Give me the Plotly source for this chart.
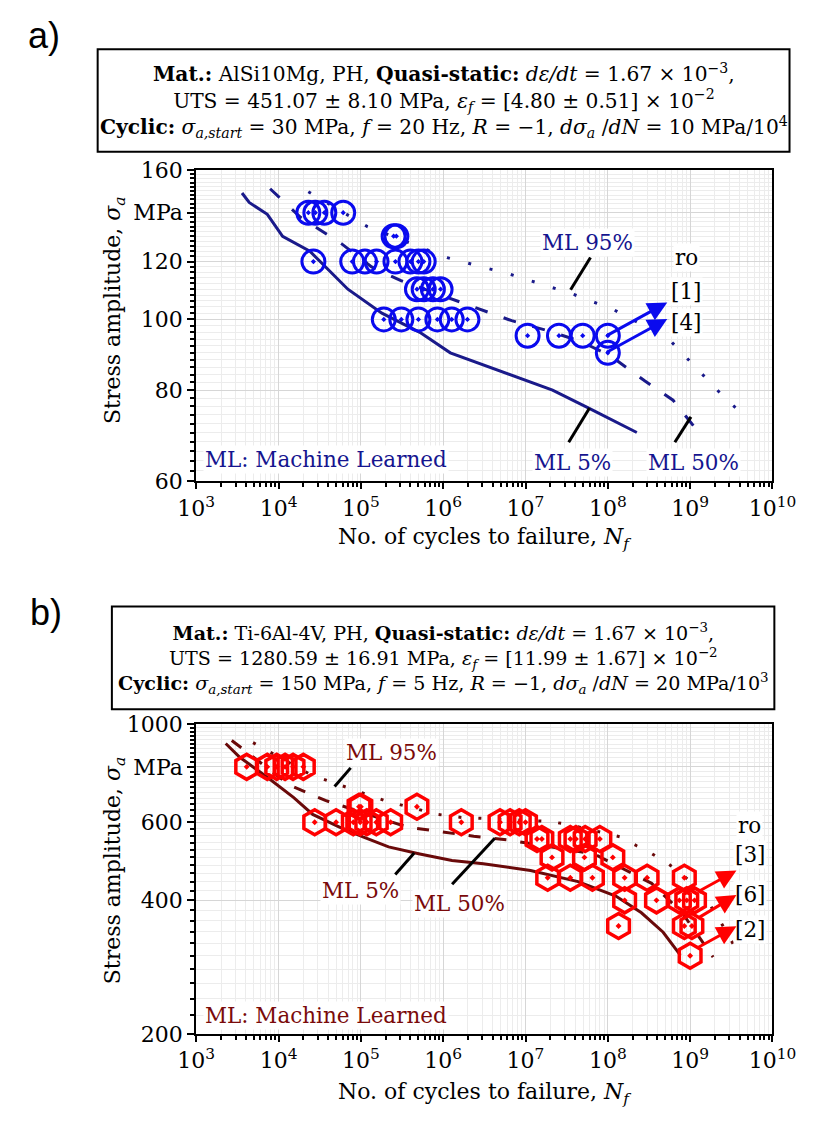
import plotly.graph_objects as go
import numpy as np

W, H = 823, 1129
FONT = "DejaVu Serif"

# ---------------- Panel a data (AlSi10Mg) ----------------
a_N = [2.3e4, 2.8e4, 3.6e4, 6.1e4,
       2.5e5, 2.7e5,
       2.65e4, 7.85e4, 1.12e5, 1.55e5, 2.63e5, 4.0e5, 5.0e5, 5.8e5,
       4.8e5, 5.8e5, 7.5e5, 9.3e5,
       1.9e5, 3.1e5, 5.0e5, 8.5e5, 1.27e6, 1.97e6,
       1.06e7, 2.55e7, 4.95e7, 1.0e8,
       1.0e8]
a_S = [140, 140, 140, 140,
       130, 130,
       120, 120, 120, 120, 120, 120, 120, 120,
       110, 110, 110, 110,
       100, 100, 100, 100, 100, 100,
       95, 95, 95, 95,
       90]

a_ml5_N = [3.6e3, 4.4e3, 7.3e3, 1.12e4, 2.4e4, 3.7e4, 6.95e4, 1.8e5, 5.2e5, 1.22e6, 2.13e7, 5.7e7, 2.25e8]
a_ml5_S = [149, 144.6, 139.3, 130, 124, 118, 110, 102, 96, 90, 80, 75.7, 70]

a_ml50_N = [7.9e3, 1.85e4, 5.8e4, 1.35e5, 3.07e5, 1.8e6, 6.8e6, 1.8e7, 4.6e7, 1.1e8, 2.8e8, 6.2e8, 1.2e9]
a_ml50_S = [151, 138, 127, 118, 113, 105, 99.6, 96.6, 93.4, 89, 82.4, 77.5, 70.6]

a_ml95_N = [2.3e4, 1.2e5, 1.15e6, 6.5e6, 3.6e7, 1.16e8, 5.4e8, 1.26e9, 2.8e9, 4.5e9]
a_ml95_S = [149.6, 134, 121.4, 115.3, 108.5, 103.2, 94.2, 85.2, 77.5, 74]

# ---------------- Panel b data (Ti-6Al-4V) ----------------
b_N = [4.1e3, 7.3e3, 9.5e3, 1.2e4, 1.5e4, 2.0e4,
       9.5e4, 1.0e5, 4.8e5,
       2.75e4, 5.0e4, 8.1e4, 9.8e4, 1.18e5, 1.54e5, 2.3e5, 1.66e6, 4.9e6, 6.5e6, 8.4e6, 1.0e7,
       1.38e7, 1.58e7, 3.5e7, 4.1e7, 5.3e7, 8.0e7,
       2.1e7, 5.2e7, 1.15e8,
       1.86e7, 3.5e7, 6.5e7, 1.6e8, 3.0e8, 8.5e8,
       1.6e8, 3.9e8, 7.4e8, 9.1e8, 1.13e9,
       1.35e8, 8.5e8, 1.05e9,
       1.0e9]
b_S = [800, 800, 800, 800, 800, 800,
       650, 650, 650,
       600, 600, 600, 600, 600, 600, 600, 600, 600, 600, 600, 600,
       550, 550, 550, 550, 550, 550,
       500, 500, 500,
       450, 450, 450, 450, 450, 450,
       400, 400, 400, 400, 400,
       350, 350, 350,
       300]

b_ml5_N = [2.28e3, 3.38e3, 7.5e3, 1.53e4, 2.6e4, 5.5e4, 1.06e5, 2.17e5, 5.2e5, 1.28e6, 3.07e6,
           1.15e7, 4.35e7, 1.25e8, 2.56e8, 4.7e8, 7.6e8]
b_ml5_S = [903, 841, 755, 682, 625, 585, 556, 528, 509, 492, 484, 467, 441, 409, 375, 339, 301]

b_ml50_N = [2.7e3, 3.9e3, 1.34e4, 3.7e4, 3.7e5, 1.06e6, 2.35e6, 6.3e6, 6.8e7, 3.4e8, 8.0e8, 1.9e9]
b_ml50_S = [917, 871, 729, 672, 585, 570, 558, 547, 509, 437, 375, 298]

b_ml95_N = [4.9e3, 2.5e4, 2.06e5, 8.6e5, 1.7e6, 1.86e7, 3.2e7, 1.43e8, 2.24e8, 3.4e8, 5.4e8, 1.19e9, 1.68e9, 2.3e9, 3.9e9]
b_ml95_S = [907, 767, 669, 625, 615, 603, 594, 556, 531, 510, 484, 431, 395, 360, 303]

x_tickvals = [1e3, 1e4, 1e5, 1e6, 1e7, 1e8, 1e9, 1e10]
x_ticktext = ["10<sup>3</sup>", "10<sup>4</sup>", "10<sup>5</sup>", "10<sup>6</sup>",
              "10<sup>7</sup>", "10<sup>8</sup>", "10<sup>9</sup>", "10<sup>10</sup>"]
a_y_tickvals = [60, 80, 100, 120, 140, 160]
a_y_ticktext = ["60", "80", "100", "120", "MPa", "160"]
b_y_tickvals = [200, 400, 600, 800, 1000]
b_y_ticktext = ["200", "400", "600", "MPa", "1000"]

# ---------------- styling ----------------
BLUE = "#0a0aee"
NAVY = "#1a1a8a"
NAVY_TXT = "#15158f"
RED = "#ff0000"
MAROON = "#6a0a0a"
MAROON_TXT = "#7a0a0a"
TICKSZ = 22


def px(x):
    return x / W


def py(y):
    return 1 - y / H


fig = go.Figure()

# panel a traces
fig.add_trace(go.Scatter(x=a_ml5_N, y=a_ml5_S, mode="lines", line=dict(color=NAVY, width=3),
                         xaxis="x", yaxis="y", showlegend=False))
fig.add_trace(go.Scatter(x=a_ml50_N, y=a_ml50_S, mode="lines", line=dict(color=NAVY, width=3, dash="13px,17px"),
                         xaxis="x", yaxis="y", showlegend=False))
fig.add_trace(go.Scatter(x=a_ml95_N, y=a_ml95_S, mode="lines", line=dict(color=NAVY, width=3, dash="3px,19px"),
                         xaxis="x", yaxis="y", showlegend=False))
fig.add_trace(go.Scatter(x=a_N, y=a_S, mode="markers",
                         marker=dict(symbol="circle-open-dot", size=23, color=BLUE, line=dict(width=3, color=BLUE)),
                         xaxis="x", yaxis="y", showlegend=False))

# panel b traces
fig.add_trace(go.Scatter(x=b_ml5_N, y=b_ml5_S, mode="lines", line=dict(color=MAROON, width=3),
                         xaxis="x2", yaxis="y2", showlegend=False))
fig.add_trace(go.Scatter(x=b_ml50_N, y=b_ml50_S, mode="lines", line=dict(color=MAROON, width=3, dash="12px,14px"),
                         xaxis="x2", yaxis="y2", showlegend=False))
fig.add_trace(go.Scatter(x=b_ml95_N, y=b_ml95_S, mode="lines", line=dict(color=MAROON, width=3, dash="3px,17px"),
                         xaxis="x2", yaxis="y2", showlegend=False))
fig.add_trace(go.Scatter(x=b_N, y=b_S, mode="markers",
                         marker=dict(symbol="hexagon-open-dot", size=25, color=RED, line=dict(width=3.5, color=RED)),
                         xaxis="x2", yaxis="y2", showlegend=False))

x_minor = [m * 10 ** e for e in range(3, 10) for m in range(2, 10)]

common_x = dict(type="log", range=[3, 10], tickmode="array", tickvals=x_tickvals, ticktext=x_ticktext,
                showline=True, linecolor="black", linewidth=2, mirror=True,
                ticks="outside", ticklen=6, tickwidth=2, tickcolor="black",
                showgrid=True, gridcolor="#d6d6d6", gridwidth=1,
                minor=dict(tickvals=x_minor, ticks="outside", ticklen=4, tickwidth=1.5, tickcolor="black",
                           showgrid=True, gridcolor="#ececec", gridwidth=1),
                tickfont=dict(family=FONT, size=TICKSZ, color="black"), zeroline=False)

a_y_minor = list(range(62, 160, 2))
b_y_minor = list(range(220, 1000, 20))

common_y = dict(type="log", tickmode="array",
                showline=True, linecolor="black", linewidth=2, mirror=True,
                ticks="outside", ticklen=7, tickwidth=2, tickcolor="black",
                showgrid=True, gridcolor="#d6d6d6", gridwidth=1,
                tickfont=dict(family=FONT, size=TICKSZ, color="black"), zeroline=False)

fig.update_layout(
    width=W, height=H, margin=dict(l=0, r=0, t=0, b=0),
    paper_bgcolor="white", plot_bgcolor="white",
    xaxis=dict(common_x, domain=[px(187), px(795)], anchor="y"),
    yaxis=dict(common_y, domain=[py(480), py(162)], anchor="x",
               range=[np.log10(60), np.log10(160)], tickvals=a_y_tickvals, ticktext=a_y_ticktext,
               minor=dict(tickvals=a_y_minor, ticks="outside", ticklen=4, tickwidth=1.5, tickcolor="black",
                          showgrid=True, gridcolor="#ececec", gridwidth=1)),
    xaxis2=dict(common_x, domain=[px(187), px(795)], anchor="y2"),
    yaxis2=dict(common_y, domain=[py(1045), py(728)], anchor="x2",
                range=[np.log10(200), 3], tickvals=b_y_tickvals, ticktext=b_y_ticktext,
                minor=dict(tickvals=b_y_minor, ticks="outside", ticklen=4, tickwidth=1.5, tickcolor="black",
                           showgrid=True, gridcolor="#ececec", gridwidth=1)),
)

ann = []
shapes = []


def text(x, y, s, size=22, color="black", xanchor="center", bg=None, angle=0, family=FONT):
    d = dict(x=px(x), y=py(y), xref="paper", yref="paper", text=s, showarrow=False,
             xanchor=xanchor, yanchor="middle", textangle=angle,
             font=dict(family=family, size=size, color=color))
    if bg:
        d["bgcolor"] = bg
    ann.append(d)


def seg(x0, y0, x1, y1, color="black", width=3):
    shapes.append(dict(type="line", xref="paper", yref="paper", x0=px(x0), y0=py(y0), x1=px(x1), y1=py(y1),
                       line=dict(color=color, width=width)))


def arrow(x0, y0, x1, y1, color):
    ann.append(dict(x=px(x1), y=py(y1), xref="paper", yref="paper", ax=x0 - x1, ay=y0 - y1,
                    axref="pixel", ayref="pixel", text="", showarrow=True,
                    arrowhead=2, arrowsize=1.3, arrowwidth=3, arrowcolor=color))


# panel labels
text(26, 24, "a)", size=36, family="Liberation Sans", xanchor="center")
text(28, 614, "b)", size=36, family="Liberation Sans", xanchor="center")

# header boxes
shapes.append(dict(type="rect", xref="paper", yref="paper", x0=px(83), x1=px(813), y0=py(38), y1=py(143),
                   line=dict(color="black", width=2), fillcolor="rgba(0,0,0,0)"))
shapes.append(dict(type="rect", xref="paper", yref="paper", x0=px(98), x1=px(797), y0=py(608), y1=py(713),
                   line=dict(color="black", width=2), fillcolor="rgba(0,0,0,0)"))

HS = 20.2
text(448, 91,
     "<b>Mat.:</b> AlSi10Mg, PH, <b>Quasi-static:</b> <i>dε/dt</i> = 1.67 × 10<sup>−3</sup>,<br>"
     "UTS = 451.07 ± 8.10 MPa, <i>ε<sub>f</sub></i> = [4.80 ± 0.51] × 10<sup>−2</sup><br>"
     "<b>Cyclic:</b> <i>σ<sub>a,start</sub></i> = 30 MPa, <i>f</i> = 20 Hz, <i>R</i> = −1, "
     "<i>dσ<sub>a</sub></i> /<i>dN</i> = 10 MPa/10<sup>4</sup>", size=HS)

text(448, 661,
     "<b>Mat.:</b> Ti-6Al-4V, PH, <b>Quasi-static:</b> <i>dε/dt</i> = 1.67 × 10<sup>−3</sup>,<br>"
     "UTS = 1280.59 ± 16.91 MPa, <i>ε<sub>f</sub></i> = [11.99 ± 1.67] × 10<sup>−2</sup><br>"
     "<b>Cyclic:</b> <i>σ<sub>a,start</sub></i> = 150 MPa, <i>f</i> = 5 Hz, <i>R</i> = −1, "
     "<i>dσ<sub>a</sub></i> /<i>dN</i> = 20 MPa/10<sup>3</sup>", size=19.1)

# axis titles
TS = 22
text(101, 305, "Stress amplitude, <i>σ<sub>a</sub></i>", size=TS, angle=-90)
text(101, 878, "Stress amplitude, <i>σ<sub>a</sub></i>", size=TS, angle=-90)
text(491, 538, "No. of cycles to failure, <i>N<sub>f</sub></i>", size=TS)
text(491, 1106, "No. of cycles to failure, <i>N<sub>f</sub></i>", size=TS)

LS = 21.5
# panel a annotations
text(194, 458, "ML: Machine Learned", size=LS, color=NAVY_TXT, xanchor="left", bg="white")
text(600, 236, "ML 95%", size=LS, color=NAVY_TXT, bg="white")
seg(603, 251, 582, 284)
text(584, 461, "ML 5%", size=LS, color=NAVY_TXT, bg="white")
seg(580, 440, 602, 405)
text(712, 461, "ML 50%", size=LS, color=NAVY_TXT, bg="white")
seg(692, 440, 709, 414)
text(704, 251, "ro", size=LS, bg="white")
text(704, 286, "[1]", size=LS, bg="white")
text(704, 318, "[4]", size=LS, bg="white")
arrow(622, 331, 684, 297, BLUE)
arrow(622, 348, 684, 314, BLUE)

# panel b annotations
text(194, 1026, "ML: Machine Learned", size=LS, color=MAROON_TXT, xanchor="left", bg="white")
text(393, 757, "ML 95%", size=LS, color=MAROON_TXT, bg="white")
seg(350, 773, 333, 792)
text(360, 898, "ML 5%", size=LS, color=MAROON_TXT, bg="white")
seg(397, 882, 417, 860)
text(465, 912, "ML 50%", size=LS, color=MAROON_TXT, bg="white")
seg(457, 892, 502, 845)
text(771, 832, "ro", size=LS, bg="white")
text(771, 862, "[3]", size=LS, bg="white")
text(771, 902, "[6]", size=LS, bg="white")
text(771, 938, "[2]", size=LS, bg="white")
arrow(717, 900, 757, 878, RED)
arrow(717, 927, 757, 903, RED)
arrow(717, 957, 757, 935, RED)

fig.update_layout(annotations=ann, shapes=shapes)
fig.write_html("out.html")
